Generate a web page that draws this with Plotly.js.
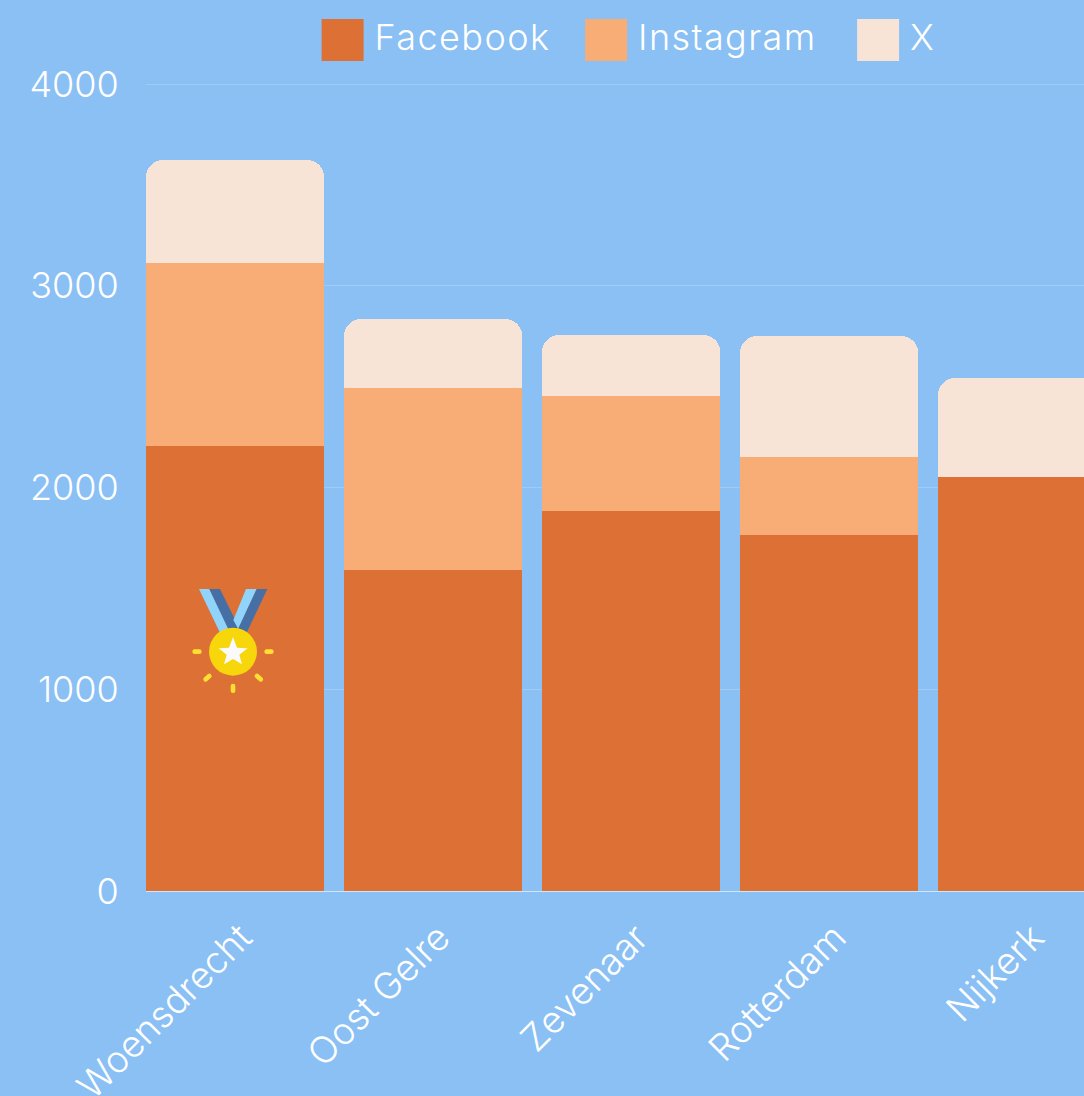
<!DOCTYPE html>
<html>
<head>
<meta charset="utf-8">
<script src="https://cdn.plot.ly/plotly-3.0.1.min.js"></script>
<style>html,body{margin:0;padding:0;background:#8AC0F4;overflow:hidden}#chart{width:1084px;height:1096px}</style>
</head>
<body>
<div id="chart"></div>
<script>
const categories = ["Woensdrecht", "Oost Gelre", "Zevenaar", "Rotterdam", "Nijkerk"];
const facebook = [2206, 1591, 1884, 1765, 2052];
const instagram = [907, 902, 570, 386, 0];
const xPlatform = [510, 342, 302, 600, 491];
const yTicks = [0, 1000, 2000, 3000, 4000];

const FONT = "Inter, 'Noto Sans', sans-serif";
const medalSvg = `<svg xmlns="http://www.w3.org/2000/svg" viewBox="150 50 260 325">
<polygon points="177,57 208,57 268,180 240,188" fill="#90D4FB"/>
<polygon points="208,57 240,57 298,175 265,178" fill="#4670A5"/>
<polygon points="318,57 350,57 295,178 280,150" fill="#90D4FB"/>
<polygon points="350,57 382,57 320,188 295,175" fill="#4670A5"/>
<circle cx="279" cy="245" r="72" fill="#F8D60C"/>
<polygon points="279,201 291,233 323,235 298,254 306,283 279,267 252,283 260,254 236,235 267,233" fill="#FAFAFA"/>
<g stroke="#FFE032" stroke-width="14" stroke-linecap="round" fill="none">
<line x1="164" y1="245" x2="178" y2="245"/><line x1="380" y1="245" x2="394" y2="245"/>
<line x1="279" y1="348" x2="279" y2="362"/><line x1="197" y1="328" x2="208" y2="318"/><line x1="351" y1="318" x2="362" y2="328"/>
</g></svg>`;

const mk = (name, y, color) => ({type: "bar", name, x: categories, y, marker: {color, line: {width: 0}}, hoverinfo: "x+y+name"});
const data = [mk("Facebook", facebook, "#DC7035"), mk("Instagram", instagram, "#F7AD75"), mk("X", xPlatform, "#F7E4D6")];

const layout = {
  width: 1084, height: 1096,
  paper_bgcolor: "#8AC0F4", plot_bgcolor: "#8AC0F4",
  margin: {l: 146, r: 0, t: 82, b: 205, pad: 0},
  font: {family: FONT, color: "#FFFFFF", size: 34, weight: 300},
  barmode: "stack", bargap: 0.1, barcornerradius: 17,
  xaxis: {type: "category", range: [-0.45, 4.287], tickangle: -45, ticks: "outside", ticklen: 9, tickcolor: "rgba(0,0,0,0)", showgrid: false,
          ticklabelshift: 6,
          zeroline: false, showline: false, automargin: false, tickfont: {family: FONT, size: 37, color: "#FFFFFF", weight: 300}},
  yaxis: {range: [0, 4010], tickvals: yTicks, ticktext: yTicks.map(String), gridcolor: "rgba(255,255,255,0.18)", gridwidth: 1,
          zeroline: true, zerolinecolor: "rgba(255,255,255,0.6)", zerolinewidth: 1, showline: false, ticks: "outside", ticklen: 19, tickcolor: "rgba(0,0,0,0)",
          automargin: false, tickfont: {family: FONT, size: 36, color: "#FFFFFF", weight: 300}},
  legend: {orientation: "h", x: 0.1755, xanchor: "left", y: 1.089, yanchor: "top", itemwidth: 54, itemclick: false, itemdoubleclick: false,
           font: {family: FONT, size: 36, color: "#FFFFFF", weight: 300}, bgcolor: "rgba(0,0,0,0)", traceorder: "normal"},
  images: [{source: "data:image/svg+xml;charset=utf-8," + encodeURIComponent(medalSvg), xref: "paper", yref: "paper",
            x: (190 - 146) / 938, y: (891 - 586.67) / 809, sizex: 86.67 / 938, sizey: 108.33 / 809,
            xanchor: "left", yanchor: "top", sizing: "stretch", layer: "above"}],
  showlegend: true
};

Plotly.newPlot("chart", data, layout, {displayModeBar: false, responsive: false}).then(() => {
  const root = document.querySelector("#chart");
  root.querySelectorAll(".legend .scrollbox").forEach(s => s.removeAttribute("clip-path"));
  root.querySelectorAll(".legend").forEach(l => l.style.overflow = "visible");
  root.querySelectorAll(".legendpoints path").forEach(p => {
    p.setAttribute("d", "M21,21H-21V-21H21Z");
    p.style.strokeWidth = "0";
  });
  root.querySelectorAll(".legendtext").forEach(t => {
    t.style.letterSpacing = "1.4px";
    t.style.transform = "translateY(-4px)";
  });
  const offsets = [0, 263.5, 535.5];
  const groups = [...root.querySelectorAll(".legend .traces")];
  const parse = g => (g.getAttribute("transform") || "").match(/translate\(([-\d.]+)[ ,]+([-\d.]+)/);
  const m0 = parse(groups[0]);
  groups.forEach((g, i) => {
    const m = parse(g);
    g.setAttribute("transform", `translate(${parseFloat(m0[1]) + offsets[i]},${m[2]})`);
  });
});
</script>
</body>
</html>
